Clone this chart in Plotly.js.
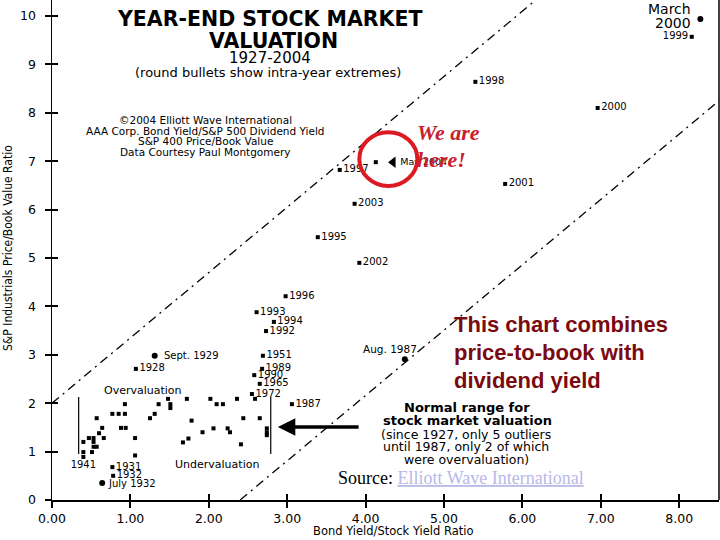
<!DOCTYPE html>
<html><head><meta charset="utf-8">
<script src="https://cdn.plot.ly/plotly-3.0.1.min.js"></script>
<style>html,body{margin:0;padding:0;background:#fff}#chart{width:720px;height:540px}</style>
</head><body><div id="chart"></div>
<script>
// ---- data ----
// unlabelled year-end readings (bond yield / stock yield ratio, price/book)
const clusterX = [0.40,0.40,0.47,0.53,0.53,0.53,0.57,0.51,0.57,0.64,0.60,0.66,0.77,0.85,0.93,0.93,0.88,0.94,1.06,1.06,1.25,1.31,1.36,1.48,1.51,1.51,1.72,2.02,2.10,2.18,2.36,2.59,1.78,2.44,2.65,2.06,2.24,2.27,1.92,2.74,2.74,2.74,1.74,1.67,2.41,4.13];
const clusterY = [1.20,0.99,1.28,1.28,1.20,1.10,1.10,0.99,1.69,1.49,1.38,1.28,1.78,1.78,1.78,1.98,1.49,1.49,1.28,0.92,1.69,1.78,1.98,2.09,1.98,1.90,2.09,2.09,1.98,1.98,2.09,2.09,1.64,1.69,1.69,1.48,1.48,1.40,1.40,1.48,1.40,1.34,1.27,1.19,1.15,6.98];
// labelled year-end readings
const yearLabels = ['1998','2000','1997','2003','1995','2002','2001','1996','1993','1994','1992','1951','1989','1990','1965','1972','1987','1928','1931','1932'];
const yearX = [5.40,6.96,3.67,3.86,3.39,3.92,5.78,2.98,2.61,2.83,2.73,2.69,2.68,2.58,2.65,2.55,3.06,1.07,0.77,0.78];
const yearY = [8.64,8.10,6.82,6.12,5.43,4.90,6.53,4.21,3.88,3.68,3.49,2.98,2.71,2.58,2.40,2.19,1.98,2.71,0.68,0.50];
const leftLabels = ['1999'];
const leftX = [8.16];
const leftY = [9.57];
const lowLabels = ['1941'];
const lowX = [0.40];
const lowY = [0.89];
// current reading
const nowLabels = ['May 2004'];
const nowX = [4.35];
const nowY = [6.98];
// intra-year extremes (round bullets)
const roundLabels = ['March<br>2000','Sept. 1929','Aug. 1987','July 1932'];
const roundX = [8.27,1.31,4.50,0.64];
const roundY = [9.94,2.98,2.91,0.35];
// normal range bounds
const upperBandX = [0, 6.17];
const upperBandY = [2.0, 10.33];
const lowerBandX = [2.40, 8.51];
const lowerBandY = [0, 8.25];
const rangeLeftX = [0.34, 0.34];
const rangeRightX = [2.79, 2.79];
const rangeY = [0.95, 2.13];
// ticks
const xTicks = [0,1,2,3,4,5,6,7,8];
const yTicks = [0,1,2,3,4,5,6,7,8,9,10];

// ---- layout helpers ----
const L = 52, T = 0, PW = 667, PH = 500;
const xMax = PW / 78.4, yMax = PH / 48.4;
function px(x){ return (x - L) / PW; }
function py(y){ return (T + PH - y) / PH; }
const SANS = 'DejaVu Sans, Verdana, sans-serif';
function txt(text, x, y, size, opts){
  return Object.assign({xref:'paper', yref:'paper', x:px(x), y:py(y), text:text, showarrow:false,
    xanchor:'center', yanchor:'middle', font:{family:SANS, size:size, color:'#000'}}, opts||{});
}

const sq = {symbol:'square', size:4, color:'#000'};
const traces = [
  {x:upperBandX, y:upperBandY, mode:'lines', line:{color:'#000', width:1.3, dash:'9px,5px,2px,5px'}},
  {x:lowerBandX, y:lowerBandY, mode:'lines', line:{color:'#000', width:1.3, dash:'9px,5px,2px,5px'}},
  {x:rangeLeftX, y:rangeY, mode:'lines', line:{color:'#000', width:1.2}},
  {x:rangeRightX, y:rangeY, mode:'lines', line:{color:'#000', width:1.2}},
  {x:clusterX, y:clusterY, mode:'markers', marker:sq},
  {x:yearX, y:yearY, text:yearLabels, mode:'markers+text', textposition:'middle right', marker:sq,
   textfont:{family:SANS, size:10, color:'#000'}},
  {x:leftX, y:leftY, text:leftLabels, mode:'markers+text', textposition:'middle left', marker:sq,
   textfont:{family:SANS, size:10, color:'#000'}},
  {x:lowX, y:lowY, text:lowLabels, mode:'markers+text', textposition:'bottom center', marker:sq,
   textfont:{family:SANS, size:10, color:'#000'}},
  {x:nowX, y:nowY, text:nowLabels, mode:'markers+text', textposition:'middle right',
   marker:{symbol:'triangle-left', size:10, color:'#000'}, textfont:{family:SANS, size:9.5, color:'#000'}},
  {x:roundX, y:roundY, mode:'markers', marker:{symbol:'circle', size:6, color:'#000'}}
];

// round-bullet labels placed as annotations (one per text line)
const roundStyle = [
  {xanchor:'right', xshift:-7, yshift:3, lineGap:14, font:{family:SANS, size:14, color:'#000'}},
  {xanchor:'left', xshift:7, yshift:0, lineGap:12, font:{family:SANS, size:10, color:'#000'}},
  {xanchor:'center', xshift:-15, yshift:10, lineGap:12, font:{family:SANS, size:10.5, color:'#000'}},
  {xanchor:'left', xshift:4, yshift:0, lineGap:12, font:{family:SANS, size:10, color:'#000'}}
];
const annotations = [];
roundLabels.forEach((t,i)=>{
  const s = roundStyle[i];
  const lines = t.split('<br>');
  lines.forEach((ln,k)=>{
    annotations.push({x:roundX[i], y:roundY[i], xref:'x', yref:'y', text:ln, showarrow:false,
      xanchor:s.xanchor, yanchor:'middle', xshift:s.xshift,
      yshift:s.yshift + ((lines.length-1)/2 - k) * s.lineGap, font:s.font});
  });
});

const RED_SANS = {family:'Liberation Sans, Arial, sans-serif', size:22, color:'#7a0a10'};
const RED_SERIF = {family:'Liberation Serif, Times New Roman, serif', size:22, color:'#c8202c'};
annotations.push(
  txt('<b>YEAR-END STOCK MARKET</b>', 270, 19, 20.5),
  txt('<b>VALUATION</b>', 273, 41, 20.5),
  txt('1927-2004', 270, 58, 15),
  txt('(round bullets show intra-year extremes)', 268, 72.5, 13),
  txt('©2004 Elliott Wave International', 205, 120, 10.5),
  txt('AAA Corp. Bond Yield/S&P 500 Dividend Yield', 205, 130.5, 10.5),
  txt('S&P 400 Price/Book Value', 205, 141, 10.5),
  txt('Data Courtesy Paul Montgomery', 205, 152, 10.5),
  txt('Overvaluation', 143, 390, 11),
  txt('Undervaluation', 217, 464, 11),
  txt('<b>Normal range for</b>', 467, 407, 13),
  txt('<b>stock market valuation</b>', 467, 420.5, 13),
  txt('(since 1927, only 5 outliers', 466, 434, 12.5),
  txt('until 1987, only 2 of which', 466, 446, 12.5),
  txt('were overvaluation)', 466, 459.5, 12.5),
  txt('<b>This chart combines</b>', 452, 324, 22, {xanchor:'left', font:RED_SANS}),
  txt('<b>price-to-book with</b>', 452, 352, 22, {xanchor:'left', font:RED_SANS}),
  txt('<b>dividend yield</b>', 452, 380, 22, {xanchor:'left', font:RED_SANS}),
  txt('<b><i>We are</i></b>', 415, 132, 22, {xanchor:'left', font:RED_SERIF}),
  txt('<b><i>here!</i></b>', 415, 160, 22, {xanchor:'left', font:RED_SERIF}),
  txt('Source: <span style="color:#b8b8e8"><u>Elliott Wave International</u></span>', 461, 478, 18,
      {font:{family:'Liberation Serif, Times New Roman, serif', size:18, color:'#000'}}),
  txt('S&P Industrials Price/Book Value Ratio', 8, 248, 12,
      {textangle:-90, font:{family:'Liberation Sans Narrow, DejaVu Sans Condensed, sans-serif', size:12, color:'#000'}}),
  txt('Bond Yield/Stock Yield Ratio', 393, 531, 11.5),
  {x:2.88, y:1.51, ax:3.93, ay:1.51, xref:'x', yref:'y', axref:'x', ayref:'y', text:'', showarrow:true,
   arrowhead:2, arrowsize:1, arrowwidth:3.5, arrowcolor:'#000'}
);

const axisCommon = {showgrid:false, zeroline:false, showline:true, linecolor:'#000', linewidth:1.5,
  ticks:'outside', ticklen:6, tickwidth:2, tickcolor:'#000', fixedrange:true,
  tickfont:{family:SANS, size:12.5, color:'#000'}};

const layout = {
  width:720, height:540, margin:{l:L, r:720-L-PW, t:T, b:540-T-PH},
  paper_bgcolor:'#fff', plot_bgcolor:'#fff', showlegend:false,
  xaxis:Object.assign({}, axisCommon, {range:[0,xMax], tickvals:xTicks, tickformat:'.2f'}),
  yaxis:Object.assign({}, axisCommon, {range:[0,yMax], tickvals:yTicks, ticklabelstandoff:6}),
  xaxis2:{overlaying:'x', range:[0,xMax], tickvals:xTicks, ticks:'inside', ticklen:6, tickwidth:2, tickcolor:'#000',
    showticklabels:false, showline:false, showgrid:false, zeroline:false, anchor:'y2', side:'bottom'},
  yaxis2:{overlaying:'y', range:[0,yMax], tickvals:yTicks, ticks:'inside', ticklen:6, tickwidth:2, tickcolor:'#000',
    showticklabels:false, showline:false, showgrid:false, zeroline:false, anchor:'x2', side:'left'},
  shapes:[
    {type:'line', xref:'paper', yref:'paper', x0:1, x1:1, y0:0, y1:1, line:{color:'#000', width:1.5}},
    {type:'circle', xref:'x', yref:'y', x0:3.92, x1:4.66, y0:6.49, y1:7.60, line:{color:'#dd1a22', width:4}}
  ],
  annotations:annotations
};
traces.push({x:[0], y:[0], xaxis:'x2', yaxis:'y2', mode:'markers', marker:{size:0, opacity:0}});
traces.forEach(t=>{ t.hoverinfo='skip'; t.cliponaxis=false; });
Plotly.newPlot('chart', traces, layout, {staticPlot:true, displayModeBar:false});
</script></body></html>
